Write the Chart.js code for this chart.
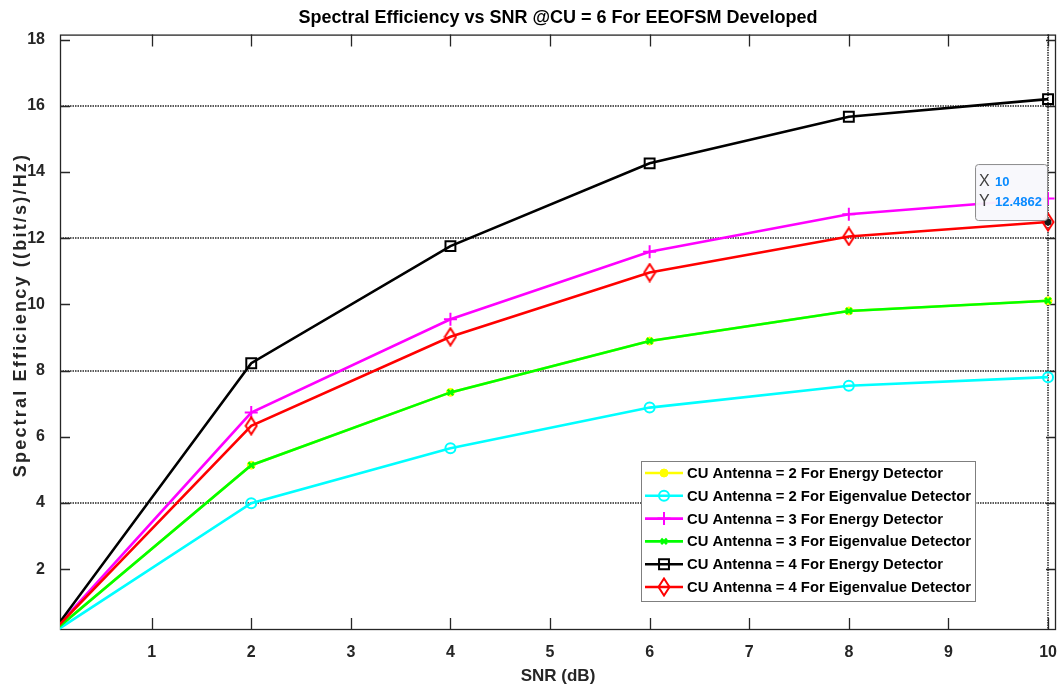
<!DOCTYPE html>
<html>
<head>
<meta charset="utf-8">
<script src="https://cdn.jsdelivr.net/npm/chart.js@4.4.0/dist/chart.umd.min.js"></script>
<style>
  html, body { margin: 0; padding: 0; background: #fff; }
  #wrap { width: 1058px; height: 688px; position: relative; }
</style>
</head>
<body>
<div id="wrap"><canvas id="myChart"></canvas></div>
<script>
// SNR points (dB) and spectral efficiency
const snr = [0, 2, 4, 6, 8, 10];
const cu2Energy = [0.08, 5.14, 7.34, 8.89, 9.80, 10.11];
const cu2Eigen  = [0.06, 3.99, 5.65, 6.88, 7.54, 7.80];
const cu3Energy = [0.09, 6.73, 9.55, 11.59, 12.72, 13.20];
const cu3Eigen  = [0.08, 5.14, 7.34, 8.89, 9.80, 10.11];
const cu4Energy = [0.08, 8.22, 11.76, 14.26, 15.67, 16.20];
const cu4Eigen  = [0.09, 6.33, 9.02, 10.96, 12.05, 12.4862];

const labels = [
  'CU Antenna = 2 For Energy Detector',
  'CU Antenna = 2 For Eigenvalue Detector',
  'CU Antenna = 3 For Energy Detector',
  'CU Antenna = 3 For Eigenvalue Detector',
  'CU Antenna = 4 For Energy Detector',
  'CU Antenna = 4 For Eigenvalue Detector'
];
const xTicks = [1, 2, 3, 4, 5, 6, 7, 8, 9, 10];
const yTicks = [2, 4, 6, 8, 10, 12, 14, 16, 18];
const yGrid = [4, 8, 12, 16];
const tipX = 10;
const tipY = cu4Eigen[5];
const yTitle = 'Spectral Efficiency ((bit/s)/Hz)';

const FONT = '"Liberation Sans", Arial, Helvetica, sans-serif';

// tall matlab-ish diamond
function makeDiamond(color) {
  const c = document.createElement('canvas');
  c.width = 14; c.height = 20;
  const g = c.getContext('2d');
  g.strokeStyle = color; g.lineWidth = 2;
  g.beginPath();
  g.moveTo(7, 1.5); g.lineTo(12.5, 10); g.lineTo(7, 18.5); g.lineTo(1.5, 10);
  g.closePath(); g.stroke();
  return c;
}

function pts(arr) { return snr.map((x, i) => ({ x: x, y: arr[i] })); }

const styles = [
  { c: '#ffff00', ps: 'circle', r: 4, fill: '#ffff00', bw: 1 },
  { c: '#00ffff', ps: 'circle', r: 5, fill: 'rgba(0,0,0,0)', bw: 2 },
  { c: '#ff00ff', ps: 'cross', r: 6.5, fill: 'rgba(0,0,0,0)', bw: 2 },
  { c: '#00ff00', ps: 'crossRot', r: 4, fill: 'rgba(0,0,0,0)', bw: 2.5 },
  { c: '#000000', ps: 'rect', r: 7, fill: 'rgba(0,0,0,0)', bw: 2 },
  { c: '#ff0000', ps: makeDiamond('#ff0000'), r: 7, fill: 'rgba(0,0,0,0)', bw: 2 }
];
const series = [cu2Energy, cu2Eigen, cu3Energy, cu3Eigen, cu4Energy, cu4Eigen];

const datasets = series.map((arr, i) => ({
  label: labels[i],
  data: pts(arr),
  borderColor: styles[i].c,
  backgroundColor: styles[i].c,
  borderWidth: 2.6,
  pointStyle: styles[i].ps,
  pointRadius: styles[i].r,
  pointBorderWidth: styles[i].bw,
  pointBorderColor: styles[i].c,
  pointBackgroundColor: styles[i].fill,
  tension: 0,
  order: 5 - i   // later series on top like matlab
}));

// box, dotted grid, inward ticks, y label
const frame = {
  id: 'frame',
  beforeDatasetsDraw(chart) {
    const { ctx, chartArea: a, scales: { x, y } } = chart;
    ctx.save();
    ctx.strokeStyle = '#5a5a5a';
    ctx.lineWidth = 2;
    ctx.setLineDash([1.5, 1]);
    yGrid.forEach(v => {
      const py = Math.round(y.getPixelForValue(v));
      ctx.beginPath(); ctx.moveTo(a.left, py); ctx.lineTo(a.right, py); ctx.stroke();
    });
    const vx = Math.round(x.getPixelForValue(tipX));
    ctx.beginPath(); ctx.moveTo(vx, a.top); ctx.lineTo(vx, a.bottom); ctx.stroke();
    ctx.setLineDash([]);
    ctx.strokeStyle = '#262626';
    ctx.lineWidth = 1.3;
    ctx.strokeRect(a.left + 0.5, a.top + 0.5, a.width - 1, a.height - 1);
    ctx.beginPath();
    xTicks.forEach(v => {
      const px = Math.round(x.getPixelForValue(v)) + 0.5;
      ctx.moveTo(px, a.bottom); ctx.lineTo(px, a.bottom - 12);
      ctx.moveTo(px, a.top); ctx.lineTo(px, a.top + 12);
    });
    yTicks.forEach(v => {
      const py = Math.round(y.getPixelForValue(v)) + 0.5;
      ctx.moveTo(a.left, py); ctx.lineTo(a.left + 10, py);
      ctx.moveTo(a.right, py); ctx.lineTo(a.right - 10, py);
    });
    ctx.stroke();

    // y title, matlab spreads the letters a bit
    ctx.translate(21, 315);
    ctx.rotate(-Math.PI / 2);
    ctx.font = 'bold 18px ' + FONT;
    ctx.letterSpacing = '2.2px';
    ctx.fillStyle = '#262626';
    ctx.textAlign = 'center';
    ctx.textBaseline = 'middle';
    ctx.fillText(yTitle, 0, 0);
    ctx.restore();
  }
};

const legendBox = {
  id: 'legendBox',
  afterDatasetsDraw(chart) {
    const ctx = chart.ctx;
    const bx = 641, by = 461, bw = 334, bh = 140;
    ctx.save();
    ctx.fillStyle = '#fff';
    ctx.fillRect(bx, by, bw, bh);
    ctx.strokeStyle = '#7f7f7f';
    ctx.lineWidth = 1;
    ctx.strokeRect(bx + 0.5, by + 0.5, bw, bh);
    ctx.font = 'bold 14.8px ' + FONT;
    ctx.textBaseline = 'middle';
    chart.data.datasets.forEach((ds, i) => {
      const ry = by + 12 + i * 22.8;
      ctx.strokeStyle = ds.borderColor;
      ctx.lineWidth = 2.6;
      ctx.beginPath(); ctx.moveTo(bx + 4, ry); ctx.lineTo(bx + 42, ry); ctx.stroke();
      ctx.fillStyle = ds.pointBackgroundColor;
      ctx.strokeStyle = ds.pointBorderColor;
      ctx.lineWidth = ds.pointBorderWidth;
      Chart.helpers.drawPoint(ctx, { pointStyle: ds.pointStyle, radius: ds.pointRadius, rotation: 0, borderWidth: ds.pointBorderWidth }, bx + 23, ry);
      ctx.fillStyle = '#000';
      ctx.fillText(ds.label, bx + 46, ry + 1);
    });
    ctx.restore();
  }
};

const dataTip = {
  id: 'dataTip',
  afterDatasetsDraw(chart) {
    const { ctx, scales: { x, y } } = chart;
    const px = x.getPixelForValue(tipX), py = y.getPixelForValue(tipY);
    ctx.save();
    ctx.fillStyle = '#1a1a1a';
    ctx.beginPath(); ctx.arc(px, py, 3.5, 0, Math.PI * 2); ctx.fill();
    const w = 72, h = 56, x0 = px - w - 1, y0 = py - h - 2;
    ctx.fillStyle = 'rgba(248,248,252,0.95)';
    ctx.strokeStyle = '#8c8c8c';
    ctx.lineWidth = 1;
    ctx.beginPath();
    ctx.roundRect(x0 + 0.5, y0 + 0.5, w, h, 3);
    ctx.fill(); ctx.stroke();
    ctx.textBaseline = 'middle';
    ctx.font = '16px ' + FONT;
    ctx.fillStyle = '#404040';
    ctx.fillText('X', x0 + 4, y0 + 18);
    ctx.fillText('Y', x0 + 4, y0 + 38);
    ctx.font = 'bold 13px ' + FONT;
    ctx.fillStyle = '#0a8cff';
    ctx.fillText(String(tipX), x0 + 20, y0 + 18);
    ctx.fillText(String(tipY), x0 + 20, y0 + 38);
    ctx.restore();
  }
};

const tickFont = { family: FONT, size: 16, weight: 'bold' };

new Chart(document.getElementById('myChart'), {
  type: 'line',
  data: { datasets: datasets },
  options: {
    responsive: true,
    maintainAspectRatio: false,
    animation: false,
    layout: { autoPadding: false, padding: { left: 0, right: 2, top: 0, bottom: 0 } },
    plugins: {
      legend: { display: false },
      tooltip: { enabled: false },
      title: {
        display: true,
        fullSize: false,
        text: 'Spectral Efficiency vs SNR @CU = 6 For EEOFSM Developed',
        color: '#000',
        font: { family: '"Liberation Sans Narrow", ' + FONT, size: 18, weight: 'bold' },
        padding: { top: 7, bottom: 6 }
      }
    },
    scales: {
      x: {
        type: 'linear',
        min: 0.08,
        max: 10.08,
        grid: { display: false },
        border: { display: false },
        afterBuildTicks: s => { s.ticks = xTicks.map(v => ({ value: v })); },
        afterFit: s => { s.height = 58; s.paddingLeft = 0; s.paddingRight = 0; },
        ticks: { font: tickFont, color: '#262626', padding: 5, maxRotation: 0 },
        title: { display: true, text: 'SNR (dB)', color: '#262626',
                 font: { family: FONT, size: 17, weight: 'bold' }, padding: { top: 0, bottom: 1 } }
      },
      y: {
        type: 'linear',
        min: 0.16,
        max: 18.15,
        grid: { display: false },
        border: { display: false },
        afterBuildTicks: s => { s.ticks = yTicks.map(v => ({ value: v })); },
        afterFit: s => { s.width = 60; s.paddingTop = 0; s.paddingBottom = 0; },
        ticks: { font: tickFont, color: '#262626', padding: 7 }
      }
    }
  },
  plugins: [frame, legendBox, dataTip]
});
</script>
</body>
</html>
